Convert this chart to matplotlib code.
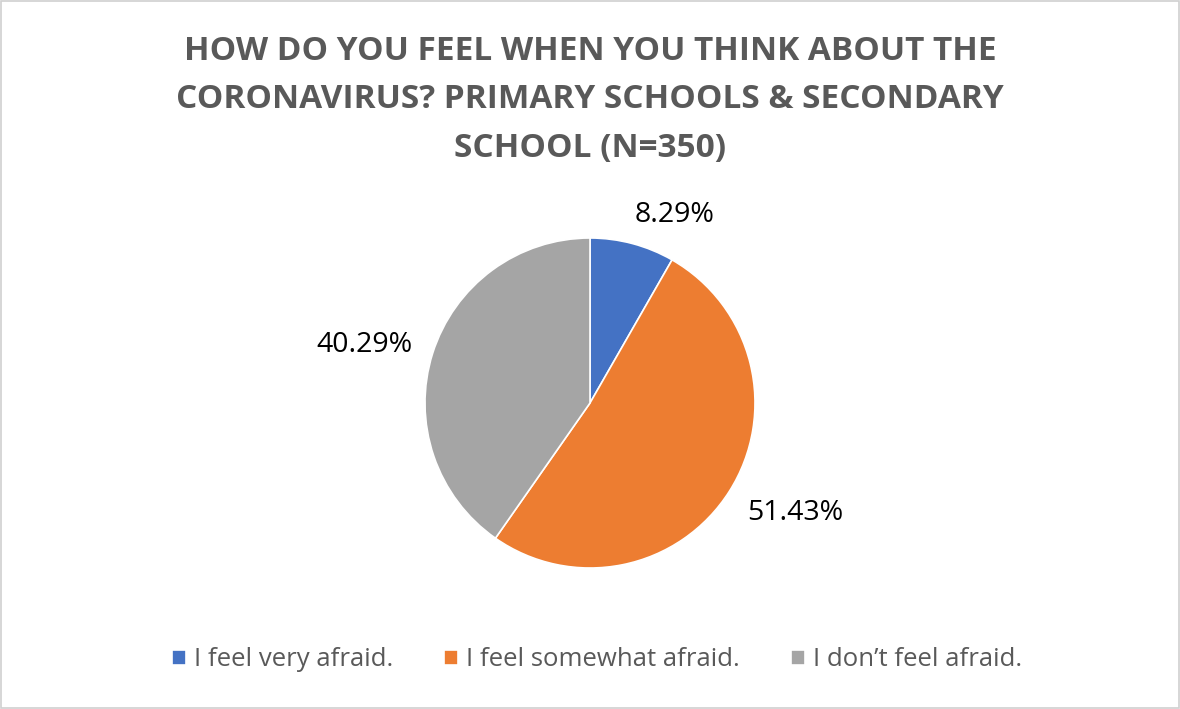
import matplotlib
matplotlib.use("Agg")
import matplotlib.pyplot as plt
from matplotlib.patches import Rectangle

categories = ["I feel very afraid.", "I feel somewhat afraid.", "I don\u2019t feel afraid."]
counts = [29, 180, 141]
colors = ["#4472c4", "#ed7d31", "#a5a5a5"]
title = "HOW DO YOU FEEL WHEN YOU THINK ABOUT THE\nCORONAVIRUS? PRIMARY SCHOOLS & SECONDARY\nSCHOOL (N=350)"

# where Excel put the data labels, in pie-radius units
label_pos = [(0.515, 1.139), (1.242, -0.667), (-1.367, 0.352)]

plt.rcParams["font.family"] = ["Open Sans", "DejaVu Sans"]
text_color = "#595959"

fig = plt.figure(figsize=(11.8, 7.09), dpi=100)
fig.patch.set_facecolor("white")
fig.patches.append(Rectangle((0.001, 0.001), 0.998, 0.998, transform=fig.transFigure,
                             fill=False, edgecolor="#d0d0d0", linewidth=1.2))

# pie axes: 330 px square centred at (590, 403)
ax = fig.add_axes([(590 - 165) / 1180, 1 - (403 + 165) / 709, 330 / 1180, 330 / 709])
wedges, texts, autotexts = ax.pie(
    counts, colors=colors, startangle=90, counterclock=False, radius=1,
    autopct=lambda p: "%.2f%%" % p, pctdistance=1.2,
    wedgeprops=dict(edgecolor="white", linewidth=1.2),
    textprops=dict(fontsize=20.5, color="black"))
for t, (x, y) in zip(autotexts, label_pos):
    t.set_position((x, y))
    t.set_ha("center")
    t.set_va("center")
    t.set_clip_on(False)
ax.set_xlim(-1, 1)
ax.set_ylim(-1, 1)
ax.set_aspect("equal")
ax.axis("off")

fig.text(0.5, 1 - 100 / 709, title, ha="center", va="center", fontsize=24,
         fontweight="bold", color=text_color, linespacing=1.62)

leg = fig.legend(wedges, categories, loc="center", bbox_to_anchor=(597 / 1180, 1 - 660 / 709),
                 ncol=3, frameon=False, fontsize=18.5, handlelength=0.55, handleheight=0.55,
                 handletextpad=0.3, columnspacing=2.0)
for t in leg.get_texts():
    t.set_color(text_color)

fig.savefig("out.png", dpi=100)
